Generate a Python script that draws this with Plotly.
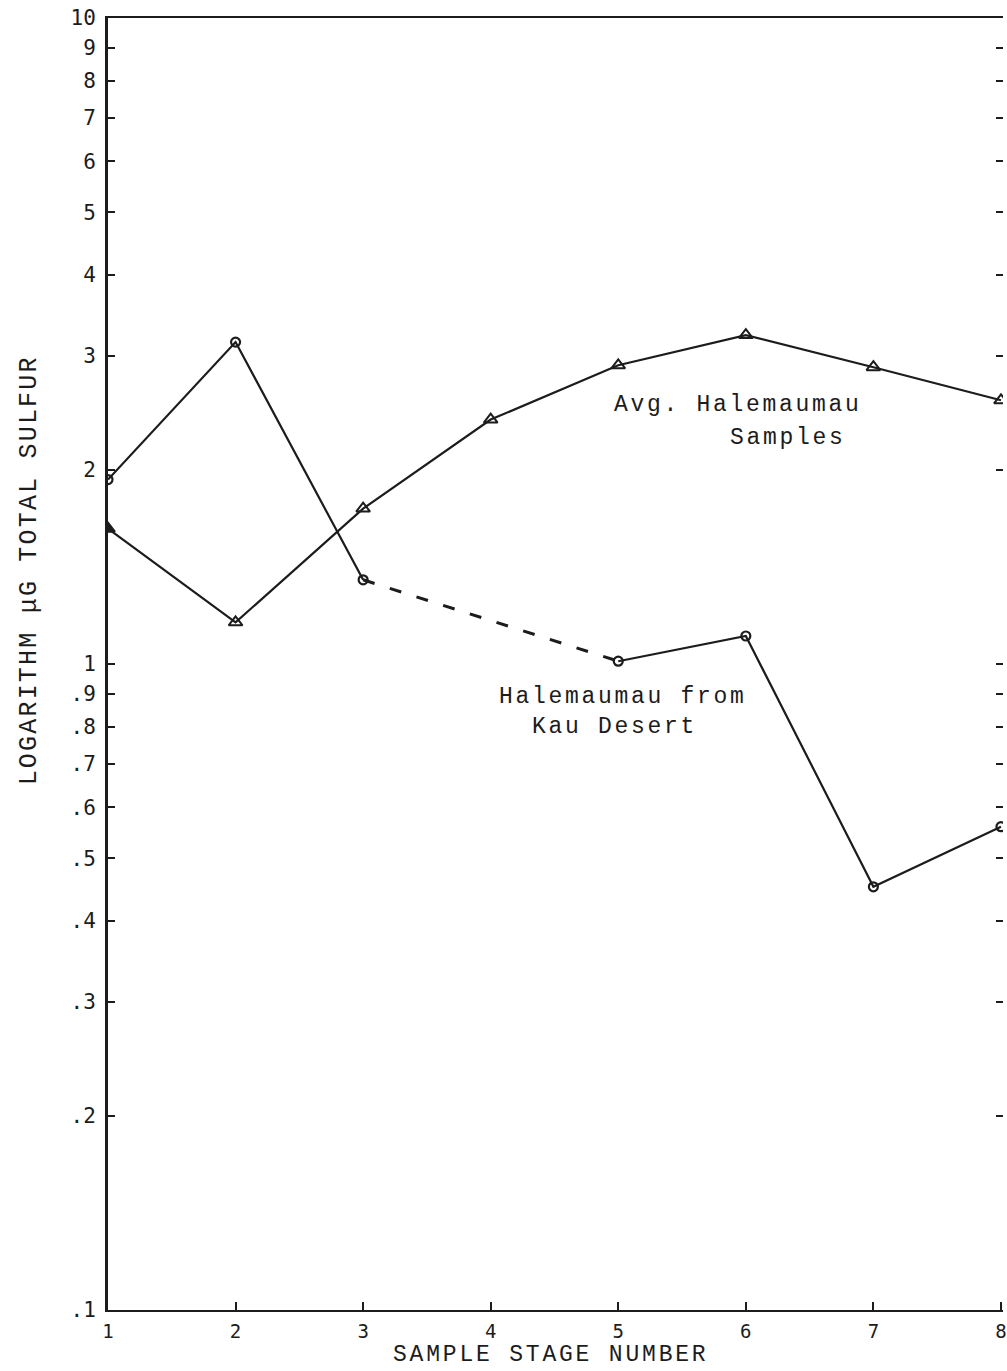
import math
import plotly.graph_objects as go

# Sample stages (x) and total sulfur in micrograms (log scale)
stages = [1, 2, 3, 4, 5, 6, 7, 8]
avg_halemaumau = [1.62, 1.16, 1.74, 2.39, 2.90, 3.23, 2.88, 2.56]
kau_desert = [1.93, 3.15, 1.35, None, 1.01, 1.105, 0.452, 0.56]

y_tickvals = [0.1, 0.2, 0.3, 0.4, 0.5, 0.6, 0.7, 0.8, 0.9, 1, 2, 3, 4, 5, 6, 7, 8, 9, 10]
y_ticktext = [".1", ".2", ".3", ".4", ".5", ".6", ".7", ".8", ".9",
              "1", "2", "3", "4", "5", "6", "7", "8", "9", "10"]
x_ticktext = ["1", "2", "3", "4", "5", "6", "7", "8"]

INK = "#1c1c1c"
MONO = "Liberation Mono, Courier New, monospace"
GOTHIC = "DejaVu Sans Mono, monospace"


def spaced(text, px):
    """Typewriter-style text with extra letter spacing."""
    return f'<span style="letter-spacing:{px}px">{text}</span>'


fig = go.Figure()

# Averaged Halemaumau samples: triangles, first one filled
tri_symbols = ["triangle-up"] + ["triangle-up-open"] * (len(stages) - 1)
fig.add_trace(go.Scatter(
    x=stages, y=avg_halemaumau, mode="lines+markers",
    line=dict(color=INK, width=2.2),
    marker=dict(symbol=tri_symbols, size=12, color=INK, line=dict(color=INK, width=2)),
    showlegend=False, hoverinfo="x+y",
))

# Kau Desert samples: solid segments, with a dashed bridge over the missing stage
fig.add_trace(go.Scatter(
    x=stages, y=kau_desert, mode="lines+markers", connectgaps=False,
    line=dict(color=INK, width=2.2),
    marker=dict(symbol="circle-open", size=9, color=INK, line=dict(color=INK, width=2.2)),
    showlegend=False, hoverinfo="x+y",
))
gap = kau_desert.index(None)
fig.add_trace(go.Scatter(
    x=[stages[gap - 1], stages[gap + 1]],
    y=[kau_desert[gap - 1], kau_desert[gap + 1]],
    mode="lines", line=dict(color=INK, width=3, dash="12px,16px"),
    showlegend=False, hoverinfo="skip",
))

# Invisible copy on a second axis to carry the right-hand tick marks
fig.add_trace(go.Scatter(
    x=stages, y=avg_halemaumau, yaxis="y2", mode="lines",
    line=dict(width=0), opacity=0, showlegend=False, hoverinfo="skip",
))

fig.update_layout(
    width=1007, height=1371,
    margin=dict(l=108, r=0, t=18, b=61),
    paper_bgcolor="white", plot_bgcolor="white",
    xaxis=dict(
        range=[1, 8.016], tickvals=stages, ticktext=x_ticktext,
        showgrid=False, zeroline=False,
        showline=True, linecolor=INK, linewidth=2, mirror=True,
        ticks="inside", ticklen=8, tickwidth=2, tickcolor=INK,
        ticklabelstandoff=3, ticklabeloverflow="allow",
        tickfont=dict(family=GOTHIC, size=19, color=INK),
    ),
    yaxis=dict(
        type="log", range=[-1, 1],
        tickvals=y_tickvals, ticktext=y_ticktext,
        showgrid=False, zeroline=False,
        showline=True, linecolor=INK, linewidth=3,
        ticks="inside", ticklen=7, tickwidth=2, tickcolor=INK,
        ticklabelstandoff=5,
        tickfont=dict(family=GOTHIC, size=21, color=INK),
    ),
    yaxis2=dict(
        type="log", range=[-1, 1], overlaying="y", side="right",
        tickvals=y_tickvals, showticklabels=False,
        showgrid=False, zeroline=False, showline=False,
        ticks="inside", ticklen=7, tickwidth=2, tickcolor=INK,
    ),
)

# Axis titles, placed in pixel-derived paper coordinates
plot_w, plot_h = 1007 - 108, 1371 - 18 - 61
fig.add_annotation(
    text=spaced("LOGARITHM μG TOTAL SULFUR", 2.2), textangle=-90, showarrow=False,
    xref="paper", yref="paper", x=(29 - 108) / plot_w, y=(1310 - 570) / plot_h,
    xanchor="center", yanchor="middle",
    font=dict(family=MONO, size=25, color=INK),
)
fig.add_annotation(
    text=spaced("SAMPLE STAGE NUMBER", 2.8), showarrow=False,
    xref="paper", yref="paper", x=(552 - 108) / plot_w, y=(1310 - 1370) / plot_h,
    xanchor="center", yanchor="bottom",
    font=dict(family=MONO, size=23, color=INK),
)

# Series labels inside the plot
labels = [
    ("Avg. Halemaumau", 5.94, 2.52),
    ("Samples", 6.33, 2.24),
    ("Halemaumau from", 5.04, 0.889),
    ("Kau Desert", 4.97, 0.800),
]
for text, xv, yv in labels:
    fig.add_annotation(
        x=xv, y=math.log10(yv), xref="x", yref="y", text=spaced(text, 2.7),
        showarrow=False, yanchor="middle",
        font=dict(family=MONO, size=23, color=INK),
    )

fig.write_html("out.html")
